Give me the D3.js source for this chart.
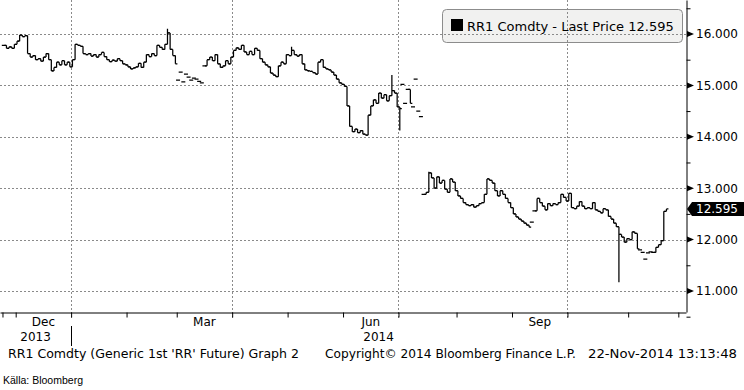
<!DOCTYPE html>
<html>
<head>
<meta charset="UTF-8" />
<title>RR1 Comdty - Last Price</title>
<script src="https://d3js.org/d3.v7.min.js"></script>
<style>
  body { margin: 0; background: #fff; }
  svg text { font-family: "DejaVu Sans", Tahoma, Verdana, sans-serif; fill: #000; }
  .grid line { stroke: #8a8a8a; stroke-dasharray: 2,2; }
  .axis path, .axis line { stroke: #000; }
</style>
</head>
<body>
<svg id="svg" width="744" height="390"></svg>
<script>
// trading calendar (CME holidays are skipped on the x axis)
const tradeStart = "2013-11-22";
const tradeEnd = "2014-12-01";
const holidays = ["2013-11-28", "2013-12-25", "2014-01-01", "2014-01-20", "2014-02-17",
                  "2014-04-18", "2014-05-26", "2014-07-04", "2014-09-01", "2014-11-27"];

// daily closes, 22-Nov-2013 .. 21-Nov-2014
const closes = [
  15.78, 15.72, 15.75, 15.72, 15.80, 15.86, 15.98, 15.95, 15.97, 15.62,
  15.55, 15.58, 15.50, 15.52, 15.47, 15.55, 15.62, 15.50, 15.28, 15.35,
  15.45, 15.40, 15.48, 15.40, 15.45, 15.36, 15.50, 15.80, 15.78, 15.76,
  15.62, 15.60, 15.62, 15.57, 15.60, 15.55, 15.60, 15.64, 15.56, 15.50,
  15.46, 15.49, 15.47, 15.52, 15.48, 15.42, 15.40, 15.36, 15.32, 15.34,
  15.36, 15.43, 15.35, 15.45, 15.60, 15.56, 15.62, 15.58, 15.78, 15.74,
  15.70, 15.80, 16.02, 15.70, 15.58, 15.42, 15.10, 15.26, 15.07, 15.22,
  15.16, 15.10, 15.14, 15.12, 15.08, 15.05, 15.38, 15.50, 15.55, 15.48,
  15.60, 15.42, 15.35, 15.38, 15.48, 15.42, 15.55, 15.68, 15.73, 15.70,
  15.78, 15.65, 15.60, 15.66, 15.60, 15.72, 15.68, 15.52, 15.45, 15.40,
  15.36, 15.24, 15.20, 15.17, 15.38, 15.45, 15.42, 15.60, 15.58, 15.68,
  15.60, 15.57, 15.60, 15.42, 15.30, 15.28, 15.27, 15.25, 15.22, 15.45,
  15.50, 15.35, 15.32, 15.30, 15.26, 15.20, 15.12, 15.05, 15.02, 14.98,
  14.60, 14.20, 14.10, 14.15, 14.08, 14.12, 14.05, 14.03, 14.42, 14.60,
  14.72, 14.65, 14.85, 14.75, 14.82, 14.70, 14.80, 14.90, 14.85, 14.58,
  14.55, 15.02, 14.65, 14.92, 14.65, 14.58, 15.12, 14.50, 14.39, 12.88,
  12.92, 13.30, 13.20, 13.00, 13.22, 13.10, 13.15, 12.98, 12.92, 13.18,
  13.12, 12.95, 12.85, 12.80, 12.72, 12.68, 12.66, 12.68, 12.63, 12.66,
  12.70, 12.72, 12.88, 13.18, 13.15, 13.10, 12.95, 12.85, 12.95, 12.88,
  12.80, 12.72, 12.62, 12.50, 12.44, 12.40, 12.36, 12.32, 12.28, 12.24,
  12.34, 12.56, 12.80, 12.72, 12.65, 12.58, 12.70, 12.66, 12.70, 12.68,
  12.72, 12.88, 12.82, 12.75, 12.90, 12.62, 12.60, 12.65, 12.74, 12.65,
  12.60, 12.62, 12.60, 12.72, 12.58, 12.55, 12.52, 12.60, 12.58, 12.45,
  12.40, 12.32, 12.25, 12.10, 12.05, 11.95, 12.02, 12.00, 12.15, 12.12,
  11.82, 11.80, 11.75, 11.62, 11.74, 11.76, 11.75, 11.85, 11.90, 11.98,
  12.55, 12.595
];

// bars not linked to the previous close (thin expiring contracts, rolls), as bar positions
const flatRanges = [[66, 76], [151, 153], [155, 159], [200, 201], [241, 246]];

// intraday extremes that stick out of the close-to-close steps
const spikeBar = [62, 109, 147, 150, 161, 233];
const spikeVal = [16.10, 15.75, 15.20, 14.12, 13.32, 11.17];

const yTicks = [11, 12, 13, 14, 15, 16];
const yMinor = [10.5, 11.5, 12.5, 13.5, 14.5, 15.5, 16.5];
const monthLabelKeys = ["2013-12", "2014-03", "2014-06", "2014-09"];
const gridMonthKeys = ["2014-01", "2014-04", "2014-07", "2014-10"];
const yearLabels = ["2013", "2014"];
const lastPrice = 12.595;
const legendText = "RR1 Comdty - Last Price 12.595";
const footer = ["RR1 Comdty (Generic 1st 'RR' Future) Graph 2",
                "Copyright\u00A9 2014 Bloomberg Finance L.P.",
                "22-Nov-2014 13:13:48"];
const sourceText = "K\u00E4lla: Bloomberg";

const svg = d3.select("svg#svg");
const plotW = 686, plotH = 312;

// build trading days
const parse = d3.timeParse("%Y-%m-%d");
const fmtDay = d3.timeFormat("%Y-%m-%d");
const fmtMonth = d3.timeFormat("%Y-%m");
let days = [];
for (let d = parse(tradeStart); d <= parse(tradeEnd); d = d3.timeDay.offset(d, 1)) {
  const wd = d.getDay();
  if (wd === 0 || wd === 6) continue;
  if (holidays.includes(fmtDay(d))) continue;
  days.push(d);
}

const x = d3.scaleLinear().domain([-1.44, 258.41]).range([0, plotW]);
const y = d3.scaleLinear().domain([10.591, 16.661]).range([plotH, 0]);

// month groups of trading-day positions
const months = d3.groups(days.map((d, i) => ({d, i})), e => fmtMonth(e.d));
const monthStart = new Map(months.map(([k, v]) => [k, v[0].i]));
const monthMid = new Map(months.map(([k, v]) => [k, (v[0].i + v[v.length - 1].i) / 2]));

// legend box first, gridlines cross it
const legend = svg.append("g");
legend.append("rect")
  .attr("x", 442.5).attr("y", 9.5).attr("width", 240).attr("height", 33).attr("rx", 4)
  .attr("fill", "#f1f1f0").attr("stroke", "#8c8c8c");

// gridlines
const grid = svg.append("g").attr("class", "grid");
grid.selectAll("line.h").data(yTicks).join("line").attr("class", "h")
  .attr("x1", 0).attr("x2", plotW)
  .attr("y1", d => Math.round(y(d)) + 0.5).attr("y2", d => Math.round(y(d)) + 0.5);
grid.selectAll("line.v").data(gridMonthKeys).join("line").attr("class", "v")
  .attr("x1", k => Math.round(x(monthStart.get(k) - 0.5)) + 0.5)
  .attr("x2", k => Math.round(x(monthStart.get(k) - 0.5)) + 0.5)
  .attr("y1", 0).attr("y2", plotH + 6);

legend.append("rect").attr("x", 451).attr("y", 19).attr("width", 12).attr("height", 12).attr("fill", "#000");
legend.append("text").attr("x", 467).attr("y", 31).attr("font-size", 13).text(legendText);

// bars
const bars = closes.map((c, p) => {
  const unlinked = p === 0 || flatRanges.some(r => p >= r[0] && p <= r[1]);
  const o = unlinked ? c : closes[p - 1];
  let h = Math.max(o, c), l = Math.min(o, c);
  const k = spikeBar.indexOf(p);
  if (k >= 0) { h = Math.max(h, spikeVal[k]); l = Math.min(l, spikeVal[k]); }
  return {p, o, h, l, c};
});

svg.append("g").attr("id", "bars")
  .selectAll("path").data(bars).join("path")
  .attr("fill", "none").attr("stroke", "#000").attr("stroke-width", 1.25)
  .attr("d", b => {
    const cx = x(b.p);
    return "M" + cx + "," + y(b.h) + "V" + y(b.l) +
           "M" + (cx - 2) + "," + y(b.o) + "H" + cx +
           "M" + cx + "," + y(b.c) + "H" + (cx + 2);
  });

// bottom axis with month ticks
const bottomAxis = d3.axisBottom(x)
  .tickValues(months.map(([k, v]) => v[0].i - 0.5))
  .tickSize(5).tickSizeOuter(0).tickFormat("");
svg.append("g").attr("class", "axis")
  .attr("transform", "translate(0," + (plotH + 0.5) + ")")
  .call(bottomAxis);

svg.selectAll("text.month").data(monthLabelKeys).join("text").attr("class", "month")
  .attr("x", k => x(monthMid.get(k))).attr("y", 326)
  .attr("text-anchor", "middle").attr("font-size", 12)
  .text(k => d3.timeFormat("%b")(parse(k + "-01")));

const janX = x(monthStart.get("2014-01") - 0.5);
svg.selectAll("text.year").data(yearLabels).join("text").attr("class", "year")
  .attr("x", (d, i) => i === 0 ? janX / 2 : (janX + plotW) / 2).attr("y", 341)
  .attr("text-anchor", "middle").attr("font-size", 12)
  .text(d => d);
svg.append("line")
  .attr("x1", Math.round(janX) + 0.5).attr("x2", Math.round(janX) + 0.5)
  .attr("y1", 326).attr("y2", 346).attr("stroke", "#000");

// right axis
const rightAxis = d3.axisRight(y).tickValues(yMinor).tickSize(4).tickSizeOuter(0).tickFormat("");
svg.append("g").attr("class", "axis")
  .attr("transform", "translate(" + (plotW + 0.5) + ",0)")
  .call(rightAxis);

const major = svg.append("g").selectAll("g").data(yTicks).join("g")
  .attr("transform", d => "translate(" + (plotW + 1) + "," + y(d) + ")");
major.append("path").attr("d", "M0,-3L7,0L0,3Z").attr("fill", "#000");
major.append("text").attr("x", 9).attr("dy", "0.36em").attr("font-size", 12)
  .text(d => d3.format(".3f")(d));

// last price tag
const ly = y(lastPrice);
svg.append("path")
  .attr("d", "M" + (plotW + 1) + "," + ly + "L" + (plotW + 6) + "," + (ly - 7) +
             "H744V" + (ly + 7) + "H" + (plotW + 6) + "Z")
  .attr("fill", "#000");
svg.append("text").attr("x", plotW + 10).attr("y", ly).attr("dy", "0.36em")
  .attr("font-size", 12).style("fill", "#fff").text(d3.format(".3f")(lastPrice));

// footer
svg.append("text").attr("x", 8).attr("y", 358).attr("font-size", 12)
  .attr("textLength", 291).attr("lengthAdjust", "spacingAndGlyphs").text(footer[0]);
svg.append("text").attr("x", 325).attr("y", 358).attr("font-size", 12)
  .attr("textLength", 251).attr("lengthAdjust", "spacingAndGlyphs").text(footer[1]);
svg.append("text").attr("x", 737).attr("y", 358).attr("font-size", 12).attr("text-anchor", "end")
  .attr("textLength", 149).attr("lengthAdjust", "spacingAndGlyphs").text(footer[2]);

svg.append("text").attr("x", 3).attr("y", 384).attr("font-size", 11)
  .style("font-family", "'Liberation Sans Narrow', 'Liberation Sans', sans-serif")
  .attr("textLength", 80).attr("lengthAdjust", "spacingAndGlyphs").text(sourceText);
</script>
</body>
</html>
